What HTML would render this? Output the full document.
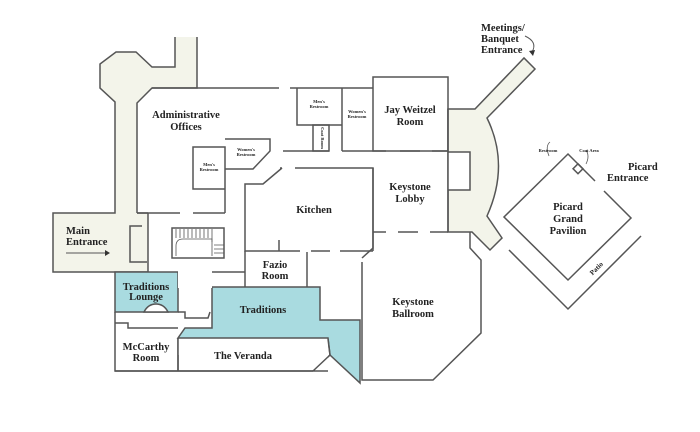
<!DOCTYPE html>
<html><head><meta charset="utf-8"><style>
html,body{margin:0;padding:0;background:#fff;}
svg{display:block;}
text{font-family:"Liberation Serif",serif;font-weight:bold;fill:#222;text-anchor:middle;}
</style></head><body>
<svg width="700" height="432" viewBox="0 0 700 432" xmlns="http://www.w3.org/2000/svg">
<g stroke="#555" stroke-width="1.5" fill="none">
<!-- left beige corridor -->
<polygon fill="#f3f4ea" stroke="none" points="175,37 197,37 197,88 152,88 137,103 137,213 148,213 148,272 53,272 53,213 115,213 115,102 100,88 100,64 116,52 136,52 152,67 175,67"/>
<polyline points="197,37 197,88 152,88 137,103 137,213"/>
<polyline points="175,37 175,67 152,67 136,52 116,52 100,64 100,88 115,102 115,213 53,213 53,272 148,272"/>
<line x1="137" y1="213" x2="148" y2="213"/><line x1="148" y1="213" x2="148" y2="272"/>
<polyline points="142,226 130,226 130,262 147,262"/>
<line x1="137" y1="213" x2="180" y2="213"/><line x1="193" y1="213" x2="225" y2="213"/>
<!-- top wall -->
<line x1="152" y1="88" x2="279" y2="88"/><line x1="290" y1="88" x2="373" y2="88"/>
<!-- restrooms top -->
<polyline points="297,88 297,125 342,125"/><rect x="313" y="125" width="16" height="26"/>
<line x1="342" y1="88" x2="342" y2="151"/>
<rect x="373" y="77" width="75" height="74"/>
<line x1="342" y1="151" x2="373" y2="151"/><line x1="283" y1="151" x2="329" y2="151"/>
<line x1="373" y1="151" x2="386" y2="151"/><line x1="400" y1="151" x2="420" y2="151"/><line x1="432" y1="151" x2="470" y2="151"/>
<!-- left restrooms -->
<polyline points="225,189 193,189 193,147 225,147 225,189"/>
<polyline points="225,139 270,139 270,151 253,169 225,169"/>
<line x1="225" y1="189" x2="225" y2="213"/>
<!-- kitchen -->
<polyline points="295,168 373,168 373,251"/>
<polyline points="282,168 263,184 245,184 245,251 300,251"/>
<line x1="280" y1="168" x2="282" y2="168"/>
<line x1="311" y1="251" x2="330" y2="251"/><line x1="340" y1="251" x2="373" y2="251"/>
<line x1="279" y1="240" x2="279" y2="251"/>
<!-- keystone lobby -->
<line x1="373" y1="168" x2="373" y2="232"/>
<line x1="373" y1="232" x2="386" y2="232"/><line x1="398" y1="232" x2="418" y2="232"/><line x1="430" y1="232" x2="448" y2="232"/>
</g>
<!-- right beige -->
<path d="M448,109 L475,109 L524,58 L535,69 L487,118 Q510,165 487,216 L502,238 L490,250 L472,232 L448,232 Z" fill="#f3f4ea" stroke="#555" stroke-width="1.5"/>
<rect x="448" y="152" width="22" height="38" fill="#fff" stroke="none"/>
<g stroke="#555" stroke-width="1.5" fill="none">
<polyline points="448,152 470,152 470,190 448,190"/>
<line x1="448" y1="109" x2="448" y2="232"/>
<!-- ballroom -->
<polyline points="362,262 362,380 433,380 481,333 481,260 470,248 470,232"/>
<polyline points="362,258 373,248 373,232"/>
<!-- fazio -->
<line x1="307" y1="252" x2="307" y2="287"/>
<line x1="245" y1="251" x2="245" y2="287"/>
<line x1="185" y1="272" x2="245" y2="272"/>
<!-- stairs -->
<rect x="172" y="228" width="52" height="30"/>
</g>
<g stroke="#555" stroke-width="0.8">
<path d="M176,229 V238 M180,229 V238 M184,229 V238 M188,229 V238 M192,229 V238 M196,229 V238 M200,229 V238 M204,229 V238 M208,229 V238 M212,229 V242 M214,245 H224 M214,249 H224 M214,253 H224"/>
<path d="M176,256 V246 Q176,239 183,239 H212 V256" fill="none"/>
</g>
<!-- teal -->
<polygon fill="#a9dbe0" stroke="#555" stroke-width="1.5" points="212,287 320,287 320,320 360,320 360,383 330,355 328,338 178,338 185,328 212,328"/>
<rect x="115" y="272" width="63" height="40" fill="#a9dbe0" stroke="#555" stroke-width="1.5"/>
<path d="M144,312 Q148,304 156,304 Q164,304 168,312 Z" fill="#fff" stroke="#555" stroke-width="1.5"/>
<rect x="178" y="270" width="34" height="18" fill="#fff"/>
<g stroke="#555" stroke-width="1.5" fill="none">
<polyline points="115,312 115,371 328,371 313,371 330,355"/>
<line x1="178" y1="338" x2="178" y2="371"/>
<polyline points="115,323 128,323 128,328 178,328"/>
<polyline points="178,312 185,312 185,318 208,318 210,312"/>
</g>
<rect x="178" y="339" width="150" height="16" fill="#fff"/>
<rect x="180" y="339" width="148" height="31" fill="#fff"/>
<polyline points="313,371 330,355 328,339" fill="none" stroke="#555" stroke-width="1.5"/>
<line x1="115" y1="371" x2="313" y2="371" stroke="#555" stroke-width="1.5"/>
<line x1="178" y1="338" x2="178" y2="371" stroke="#555" stroke-width="1.5"/>
<!-- picard -->
<g stroke="#555" stroke-width="1.5" fill="none">
<polyline points="595,181 568,154 504,217 568,280 631,218 604,191"/>
<polyline points="509,250 568,309 641,236"/>
<rect x="575" y="165" width="7" height="7" transform="rotate(45 578 168)"/>
<path d="M549,156 Q545,146 550,142" stroke-width="0.8"/>
<path d="M586,164 Q590,156 586,150" stroke-width="0.8"/>
<path d="M525,36 Q538,42 532,52" stroke-width="1"/>
<line x1="66" y1="253" x2="105" y2="253" stroke-width="1"/>
</g>
<polygon points="105,250 110,253 105,256" fill="#333"/>
<polygon points="529,51 533,56 535,50" fill="#333"/>
<!-- labels -->
<g font-size="10.5">
<text x="186" y="118">Administrative</text><text x="186" y="130">Offices</text>
<text x="410" y="113">Jay Weitzel</text><text x="410" y="125">Room</text>
<text x="410" y="190">Keystone</text><text x="410" y="202">Lobby</text>
<text x="314" y="213">Kitchen</text>
<text x="275" y="268">Fazio</text><text x="275" y="279">Room</text>
<text x="413" y="305">Keystone</text><text x="413" y="317">Ballroom</text>
<text x="263" y="313">Traditions</text>
<text x="146" y="290">Traditions</text><text x="146" y="300">Lounge</text>
<text x="146" y="350">McCarthy</text><text x="146" y="361">Room</text>
<text x="243" y="359">The Veranda</text>
<text x="568" y="210">Picard</text><text x="568" y="222">Grand</text><text x="568" y="234">Pavilion</text>
<text x="628" y="170" text-anchor="start" style="text-anchor:start">Picard</text>
<text x="607" y="181" style="text-anchor:start">Entrance</text>
<text x="481" y="31" style="text-anchor:start">Meetings/</text>
<text x="481" y="42" style="text-anchor:start">Banquet</text>
<text x="481" y="53" style="text-anchor:start">Entrance</text>
<text x="66" y="234" style="text-anchor:start">Main</text>
<text x="66" y="245" style="text-anchor:start">Entrance</text>
</g>
<g font-size="4.5">
<text x="319" y="103">Men's</text><text x="319" y="108">Restroom</text>
<text x="357" y="113">Women's</text><text x="357" y="118">Restroom</text>
<text x="246" y="151">Women's</text><text x="246" y="156">Restroom</text>
<text x="209" y="166">Men's</text><text x="209" y="171">Restroom</text>
<text x="548" y="152">Restroom</text><text x="589" y="152">Coat Area</text>
</g>
<text x="321" y="138" font-size="4.5" transform="rotate(90 321 138)">Coat Room</text>
<text x="598" y="270" font-size="7" transform="rotate(-45 598 270)">Patio</text>
</svg>
</body></html>
